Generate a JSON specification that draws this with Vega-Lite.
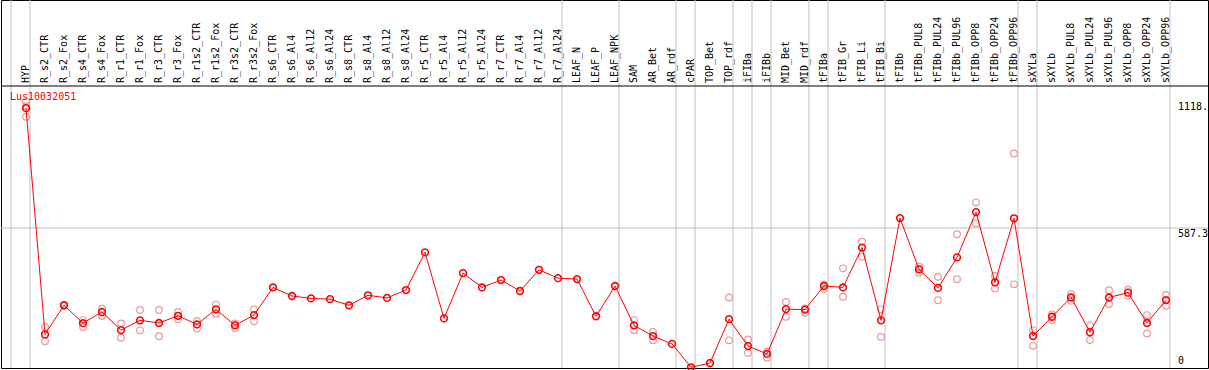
{
  "$schema": "https://vega.github.io/schema/vega-lite/v6.json",
  "width": 1207,
  "height": 368,
  "autosize": "none",
  "padding": {"left": 1, "top": 0, "right": 1, "bottom": 2},
  "config": {
    "view": {"stroke": "#000000", "strokeWidth": 1},
    "axis": {"disable": true},
    "text": {"font": "DejaVu Sans Mono", "fontSize": 10}
  },
  "datasets": {
    "means": [
      {"i": 0, "cat": "HYP", "v": 1090},
      {"i": 1, "cat": "R_s2_CTR", "v": 141},
      {"i": 2, "cat": "R_s2_Fox", "v": 263},
      {"i": 3, "cat": "R_s4_CTR", "v": 188},
      {"i": 4, "cat": "R_s4_Fox", "v": 235},
      {"i": 5, "cat": "R_r1_CTR", "v": 159},
      {"i": 6, "cat": "R_r1_Fox", "v": 200},
      {"i": 7, "cat": "R_r3_CTR", "v": 189},
      {"i": 8, "cat": "R_r3_Fox", "v": 219},
      {"i": 9, "cat": "R_r1s2_CTR", "v": 183},
      {"i": 10, "cat": "R_r1s2_Fox", "v": 246},
      {"i": 11, "cat": "R_r3s2_CTR", "v": 179},
      {"i": 12, "cat": "R_r3s2_Fox", "v": 222},
      {"i": 13, "cat": "R_s6_CTR", "v": 338},
      {"i": 14, "cat": "R_s6_Al4", "v": 302},
      {"i": 15, "cat": "R_s6_Al12", "v": 292},
      {"i": 16, "cat": "R_s6_Al24", "v": 289},
      {"i": 17, "cat": "R_s8_CTR", "v": 263},
      {"i": 18, "cat": "R_s8_Al4", "v": 305},
      {"i": 19, "cat": "R_s8_Al12", "v": 294},
      {"i": 20, "cat": "R_s8_Al24", "v": 327},
      {"i": 21, "cat": "R_r5_CTR", "v": 485},
      {"i": 22, "cat": "R_r5_Al4", "v": 208},
      {"i": 23, "cat": "R_r5_Al12", "v": 398},
      {"i": 24, "cat": "R_r5_Al24", "v": 338},
      {"i": 25, "cat": "R_r7_CTR", "v": 369},
      {"i": 26, "cat": "R_r7_Al4", "v": 323},
      {"i": 27, "cat": "R_r7_Al12", "v": 412},
      {"i": 28, "cat": "R_r7_Al24", "v": 377},
      {"i": 29, "cat": "LEAF_N", "v": 373},
      {"i": 30, "cat": "LEAF_P", "v": 217},
      {"i": 31, "cat": "LEAF_NPK", "v": 344},
      {"i": 32, "cat": "SAM", "v": 179},
      {"i": 33, "cat": "AR_Bet", "v": 134},
      {"i": 34, "cat": "AR_rdf", "v": 101},
      {"i": 35, "cat": "cPAR", "v": 3},
      {"i": 36, "cat": "TOP_Bet", "v": 21},
      {"i": 37, "cat": "TOP_rdf", "v": 205},
      {"i": 38, "cat": "iFIBa", "v": 92},
      {"i": 39, "cat": "iFIBb", "v": 59},
      {"i": 40, "cat": "MID_Bet", "v": 247},
      {"i": 41, "cat": "MID_rdf", "v": 245},
      {"i": 42, "cat": "tFIBa", "v": 344},
      {"i": 43, "cat": "tFIB_Gr", "v": 338},
      {"i": 44, "cat": "tFIB_Li", "v": 505},
      {"i": 45, "cat": "tFIB_Bi", "v": 200},
      {"i": 46, "cat": "tFIBb", "v": 629},
      {"i": 47, "cat": "tFIBb_PUL8", "v": 414},
      {"i": 48, "cat": "tFIBb_PUL24", "v": 336},
      {"i": 49, "cat": "tFIBb_PUL96", "v": 464},
      {"i": 50, "cat": "tFIBb_OPP8", "v": 654},
      {"i": 51, "cat": "tFIBb_OPP24", "v": 359},
      {"i": 52, "cat": "tFIBb_OPP96", "v": 628},
      {"i": 53, "cat": "sXYLa", "v": 134},
      {"i": 54, "cat": "sXYLb", "v": 215},
      {"i": 55, "cat": "sXYLb_PUL8", "v": 296},
      {"i": 56, "cat": "sXYLb_PUL24", "v": 150},
      {"i": 57, "cat": "sXYLb_PUL96", "v": 296},
      {"i": 58, "cat": "sXYLb_OPP8", "v": 316},
      {"i": 59, "cat": "sXYLb_OPP24", "v": 189},
      {"i": 60, "cat": "sXYLb_OPP96", "v": 285}
    ],
    "reps": [
      {"cat": "HYP", "v": 1118}, {"cat": "HYP", "v": 1054}, {"cat": "HYP", "v": 1098},
      {"cat": "R_s2_CTR", "v": 172}, {"cat": "R_s2_CTR", "v": 112}, {"cat": "R_s2_CTR", "v": 140},
      {"cat": "R_s2_Fox", "v": 265}, {"cat": "R_s2_Fox", "v": 262},
      {"cat": "R_s4_CTR", "v": 201}, {"cat": "R_s4_CTR", "v": 172},
      {"cat": "R_s4_Fox", "v": 249}, {"cat": "R_s4_Fox", "v": 218},
      {"cat": "R_r1_CTR", "v": 187}, {"cat": "R_r1_CTR", "v": 127},
      {"cat": "R_r1_Fox", "v": 243}, {"cat": "R_r1_Fox", "v": 158},
      {"cat": "R_r3_CTR", "v": 243}, {"cat": "R_r3_CTR", "v": 133},
      {"cat": "R_r3_Fox", "v": 235}, {"cat": "R_r3_Fox", "v": 205},
      {"cat": "R_r1s2_CTR", "v": 197}, {"cat": "R_r1s2_CTR", "v": 166},
      {"cat": "R_r1s2_Fox", "v": 266}, {"cat": "R_r1s2_Fox", "v": 228},
      {"cat": "R_r3s2_CTR", "v": 187}, {"cat": "R_r3s2_CTR", "v": 168},
      {"cat": "R_r3s2_Fox", "v": 246}, {"cat": "R_r3s2_Fox", "v": 196},
      {"cat": "SAM", "v": 201}, {"cat": "SAM", "v": 159},
      {"cat": "AR_Bet", "v": 151}, {"cat": "AR_Bet", "v": 116},
      {"cat": "TOP_rdf", "v": 296}, {"cat": "TOP_rdf", "v": 116},
      {"cat": "iFIBa", "v": 120}, {"cat": "iFIBa", "v": 63},
      {"cat": "iFIBb", "v": 68}, {"cat": "iFIBb", "v": 43},
      {"cat": "MID_Bet", "v": 277}, {"cat": "MID_Bet", "v": 215},
      {"cat": "MID_rdf", "v": 250}, {"cat": "MID_rdf", "v": 232},
      {"cat": "tFIBa", "v": 351}, {"cat": "tFIBa", "v": 333},
      {"cat": "tFIB_Gr", "v": 418}, {"cat": "tFIB_Gr", "v": 299},
      {"cat": "tFIB_Li", "v": 530}, {"cat": "tFIB_Li", "v": 467},
      {"cat": "tFIB_Bi", "v": 246}, {"cat": "tFIB_Bi", "v": 130},
      {"cat": "tFIBb_PUL8", "v": 425}, {"cat": "tFIBb_PUL8", "v": 400},
      {"cat": "tFIBb_PUL24", "v": 383}, {"cat": "tFIBb_PUL24", "v": 284},
      {"cat": "tFIBb_PUL96", "v": 561}, {"cat": "tFIBb_PUL96", "v": 372},
      {"cat": "tFIBb_OPP8", "v": 695}, {"cat": "tFIBb_OPP8", "v": 607},
      {"cat": "tFIBb_OPP24", "v": 386}, {"cat": "tFIBb_OPP24", "v": 334},
      {"cat": "tFIBb_OPP96", "v": 900}, {"cat": "tFIBb_OPP96", "v": 351},
      {"cat": "sXYLa", "v": 159}, {"cat": "sXYLa", "v": 93},
      {"cat": "sXYLb", "v": 225}, {"cat": "sXYLb", "v": 201},
      {"cat": "sXYLb_PUL8", "v": 310}, {"cat": "sXYLb_PUL8", "v": 282},
      {"cat": "sXYLb_PUL24", "v": 179}, {"cat": "sXYLb_PUL24", "v": 117},
      {"cat": "sXYLb_PUL96", "v": 326}, {"cat": "sXYLb_PUL96", "v": 268},
      {"cat": "sXYLb_OPP8", "v": 328}, {"cat": "sXYLb_OPP8", "v": 303},
      {"cat": "sXYLb_OPP24", "v": 222}, {"cat": "sXYLb_OPP24", "v": 145},
      {"cat": "sXYLb_OPP96", "v": 306}, {"cat": "sXYLb_OPP96", "v": 261}
    ],
    "bounds": [
      {"cat": "HYP"}, {"cat": "R_r7_Al24"}, {"cat": "LEAF_NPK"}, {"cat": "AR_rdf"},
      {"cat": "cPAR"}, {"cat": "TOP_rdf"}, {"cat": "iFIBa"}, {"cat": "iFIBb"},
      {"cat": "MID_rdf"}, {"cat": "tFIBa"}, {"cat": "tFIB_Bi"}, {"cat": "tFIBb_OPP96"},
      {"cat": "sXYLa"}, {"cat": "sXYLb_OPP96"}
    ],
    "first": [{"cat": "HYP"}],
    "ylabels": [
      {"v": 1118, "label": "1118.", "pos": "top"},
      {"v": 587.3, "label": "587.3", "pos": "top"},
      {"v": 0, "label": "0", "pos": "bottom"}
    ],
    "gene": [{"cat": "HYP", "v": 1124, "label": "Lus10032051"}]
  },
  "resolve": {"scale": {"x": "shared", "y": "shared"}},
  "layer": [
    {
      "data": {"name": "bounds"},
      "mark": {"type": "rule", "color": "#c0c0c0", "strokeWidth": 1},
      "encoding": {
        "x": {"field": "cat", "type": "nominal", "bandPosition": 0.7105,
              "scale": {"domain": ["HYP","R_s2_CTR","R_s2_Fox","R_s4_CTR","R_s4_Fox","R_r1_CTR","R_r1_Fox","R_r3_CTR","R_r3_Fox","R_r1s2_CTR","R_r1s2_Fox","R_r3s2_CTR","R_r3s2_Fox","R_s6_CTR","R_s6_Al4","R_s6_Al12","R_s6_Al24","R_s8_CTR","R_s8_Al4","R_s8_Al12","R_s8_Al24","R_r5_CTR","R_r5_Al4","R_r5_Al12","R_r5_Al24","R_r7_CTR","R_r7_Al4","R_r7_Al12","R_r7_Al24","LEAF_N","LEAF_P","LEAF_NPK","SAM","AR_Bet","AR_rdf","cPAR","TOP_Bet","TOP_rdf","iFIBa","iFIBb","MID_Bet","MID_rdf","tFIBa","tFIB_Gr","tFIB_Li","tFIB_Bi","tFIBb","tFIBb_PUL8","tFIBb_PUL24","tFIBb_PUL96","tFIBb_OPP8","tFIBb_OPP24","tFIBb_OPP96","sXYLa","sXYLb","sXYLb_PUL8","sXYLb_PUL24","sXYLb_PUL96","sXYLb_OPP8","sXYLb_OPP24","sXYLb_OPP96"],
                        "type": "band", "paddingInner": 0, "paddingOuter": 0, "range": [15.5, 1174.5]}}
      }
    },
    {
      "data": {"name": "first"},
      "mark": {"type": "rule", "color": "#c0c0c0", "strokeWidth": 1, "xOffset": -19},
      "encoding": {
        "x": {"field": "cat", "type": "nominal", "bandPosition": 0.7105}
      }
    },
    {
      "data": {"values": [{"v": 587.3}]},
      "mark": {"type": "rule", "color": "#c0c0c0", "strokeWidth": 1},
      "encoding": {
        "y": {"field": "v", "type": "quantitative", "scale": {"domain": [0, 1543.8], "nice": false, "zero": false}}
      }
    },
    {
      "data": {"values": [{"v": 1183}]},
      "mark": {"type": "rule", "color": "#000000", "strokeWidth": 1},
      "encoding": {
        "y": {"field": "v", "type": "quantitative"}
      }
    },
    {
      "data": {"name": "means"},
      "mark": {"type": "text", "angle": 270, "align": "left", "baseline": "middle", "color": "#000000", "font": "DejaVu Sans Mono", "fontSize": 10},
      "encoding": {
        "x": {"field": "cat", "type": "nominal"},
        "y": {"datum": 1195.6, "type": "quantitative"},
        "text": {"field": "cat"}
      }
    },
    {
      "data": {"name": "reps"},
      "mark": {"type": "point", "shape": "circle", "filled": false, "size": 45, "stroke": "#e89090", "strokeWidth": 1.2, "opacity": 0.9},
      "encoding": {
        "x": {"field": "cat", "type": "nominal"},
        "y": {"field": "v", "type": "quantitative"}
      }
    },
    {
      "data": {"name": "means"},
      "mark": {"type": "line", "color": "#ff0000", "strokeWidth": 1},
      "encoding": {
        "x": {"field": "cat", "type": "nominal"},
        "y": {"field": "v", "type": "quantitative"},
        "order": {"field": "i", "type": "quantitative"}
      }
    },
    {
      "data": {"name": "means"},
      "mark": {"type": "point", "shape": "circle", "filled": false, "size": 45, "stroke": "#ff0000", "strokeWidth": 1.6, "opacity": 1},
      "encoding": {
        "x": {"field": "cat", "type": "nominal"},
        "y": {"field": "v", "type": "quantitative"}
      }
    },
    {
      "data": {"name": "gene"},
      "mark": {"type": "text", "align": "left", "baseline": "alphabetic", "dx": -16, "color": "#ff0000", "font": "DejaVu Sans Mono", "fontSize": 10},
      "encoding": {
        "x": {"field": "cat", "type": "nominal"},
        "y": {"field": "v", "type": "quantitative"},
        "text": {"field": "label"}
      }
    },
    {
      "data": {"name": "ylabels"},
      "transform": [{"filter": "datum.pos == 'top'"}],
      "mark": {"type": "text", "align": "left", "baseline": "top", "dx": 12, "dy": 1, "color": "#000000", "font": "DejaVu Sans Mono", "fontSize": 10},
      "encoding": {
        "x": {"datum": "sXYLb_OPP96", "type": "nominal"},
        "y": {"field": "v", "type": "quantitative"},
        "text": {"field": "label"}
      }
    },
    {
      "data": {"name": "ylabels"},
      "transform": [{"filter": "datum.pos == 'bottom'"}],
      "mark": {"type": "text", "align": "left", "baseline": "bottom", "dx": 12, "dy": -2, "color": "#000000", "font": "DejaVu Sans Mono", "fontSize": 10},
      "encoding": {
        "x": {"datum": "sXYLb_OPP96", "type": "nominal"},
        "y": {"field": "v", "type": "quantitative"},
        "text": {"field": "label"}
      }
    }
  ]
}
